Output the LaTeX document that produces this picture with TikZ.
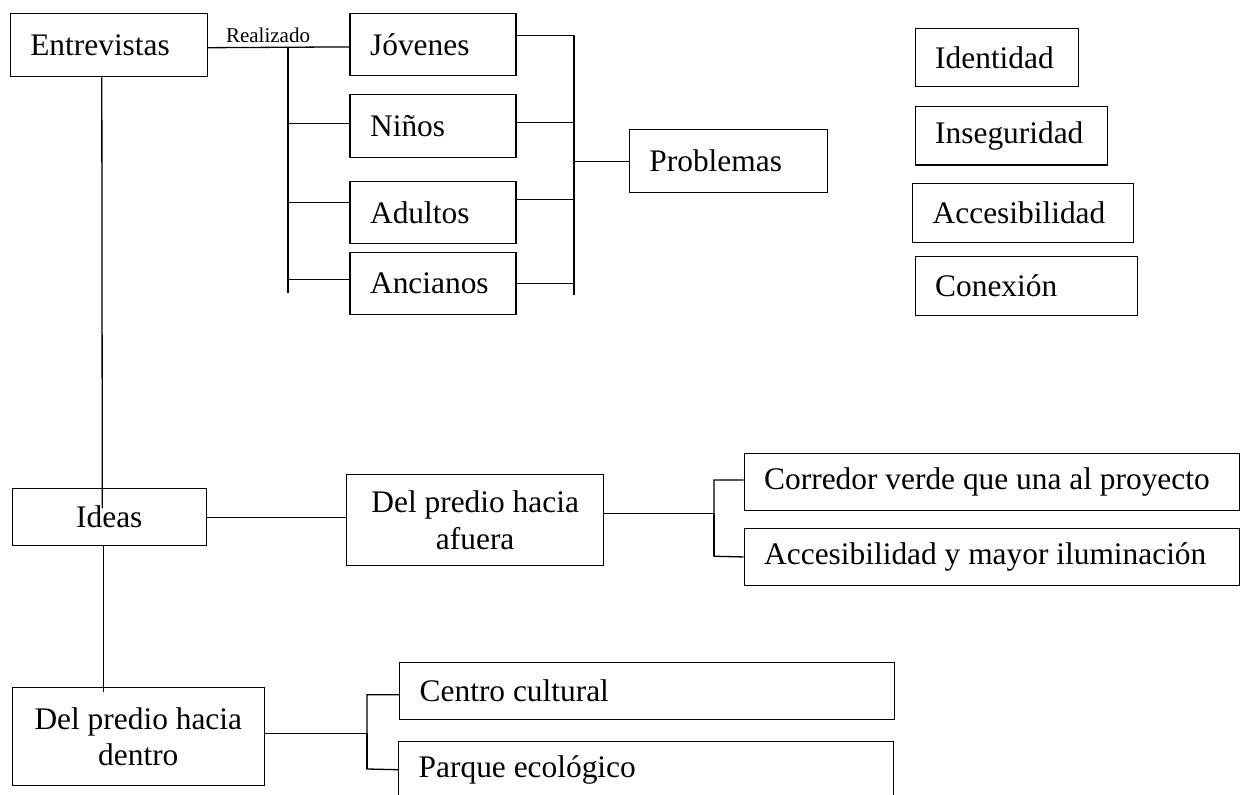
\documentclass[tikz,border=0pt]{standalone}
\usepackage{fontspec}
\setmainfont{Liberation Serif}
\begin{document}
\begin{tikzpicture}[
                x=1pt, y=-1pt,
                box/.style = {draw, line width=1.4pt, anchor=north west, inner xsep=20pt, inner ysep=0pt,
                              align=flush left, font=\fontsize{31.4}{36.7}\selectfont},
                cbox/.style = {box, inner xsep=10pt, align=flush center},
                wire/.style = {line width=1.3pt},
            ]
            \useasboundingbox (0,0) rectangle (1243,795);
            \clip (0,0) rectangle (1243,795);

            \node (ent) at (9.6,13) [box, text width=157pt, minimum height=63pt] {Entrevistas};
            \node (real) at (268,35.5) [inner sep=0pt, font=\fontsize{21}{24}\selectfont] {Realizado};
            \node (jov) at (349.4,12.7) [box, text width=126pt, minimum height=62pt] {Jóvenes};
            \node (nin) at (349.4,94) [box, text width=126pt, minimum height=63pt] {Niños};
            \node (adu) at (349.4,181) [box, text width=126pt, minimum height=62pt] {Adultos};
            \node (anc) at (349.4,252) [box, text width=126pt, minimum height=62pt] {Ancianos};
            \node (prob) at (628.7,129) [box, text width=158pt, minimum height=63pt] {Problemas};

            \node (ide) at (914.5,27.7) [box, text width=123pt, minimum height=58pt] {Identidad};
            \node (ins) at (914.5,105.7) [box, text width=152pt, minimum height=58.5pt] {Inseguridad};
            \node (acc) at (912,183) [box, text width=180.5pt, minimum height=59pt] {Accesibilidad};
            \node (con) at (914.5,256) [box, text width=182pt, minimum height=59pt] {Conexión};

            \node (ideas) at (11.6,488) [cbox, text width=174pt, minimum height=57pt] {Ideas};
            \node (afu) at (346,474) [cbox, text width=237pt, minimum height=91pt] {Del predio hacia\\afuera};
            \node (cor) at (743.5,453) [box, text width=455pt, minimum height=56.5pt] {Corredor verde que una al proyecto};
            \node (accm) at (743.5,528) [box, text width=455pt, minimum height=56.5pt] {Accesibilidad y mayor iluminación};

            \node (den) at (11.6,687) [cbox, text width=232pt, minimum height=98pt] {Del predio hacia\\dentro};
            \node (cen) at (399,662) [box, text width=455pt, minimum height=56.5pt] {Centro cultural};
            \node (par) at (398,741) [box, text width=455pt, minimum height=56pt] {Parque ecológico};

            % entrevistas
            \coordinate (lb1) at (288,47); \coordinate (lb2) at (288,293);
            \coordinate (rb2) at (574,295);
            \draw[wire] ([yshift=-2.5pt]ent.east) -- ([yshift=-2.5pt]jov.west);
            \draw[wire] (lb1) -- (lb2);
            \foreach \n/\s in {nin/2.5, adu/10, anc/4}
                \draw[wire] ([yshift=\s pt]\n.west) -| (lb2);
            \foreach \n/\s in {jov/9, nin/3.5, adu/13, anc/0}
                \draw[wire] ([yshift=\s pt]\n.east) -| (rb2);
            \draw[wire] (prob.west) -- (prob.west -| rb2);

            % ideas
            \draw[wire] ([xshift=-7pt]ent.south) -- ([xshift=-7pt,yshift=-20pt]ideas.north);
            \draw[wire] ([xshift=-6pt]ideas.south) -- ++(0,146);
            \draw[wire] (ideas.east) -- (ideas.east -| afu.west);

            \coordinate (ab2) at (714,556.25);
            \draw[wire] ([yshift=6.5pt]afu.east) -| (ab2);
            \draw[wire] ([yshift=2pt]cor.west) -| (ab2) -- (accm.west);

            \coordinate (db2) at (367,769);
            \draw[wire] ([yshift=3pt]den.east) -| (db2);
            \draw[wire] ([yshift=-3.75pt]cen.west) -| (db2) -- (par.west);
        \end{tikzpicture}
\end{document}
